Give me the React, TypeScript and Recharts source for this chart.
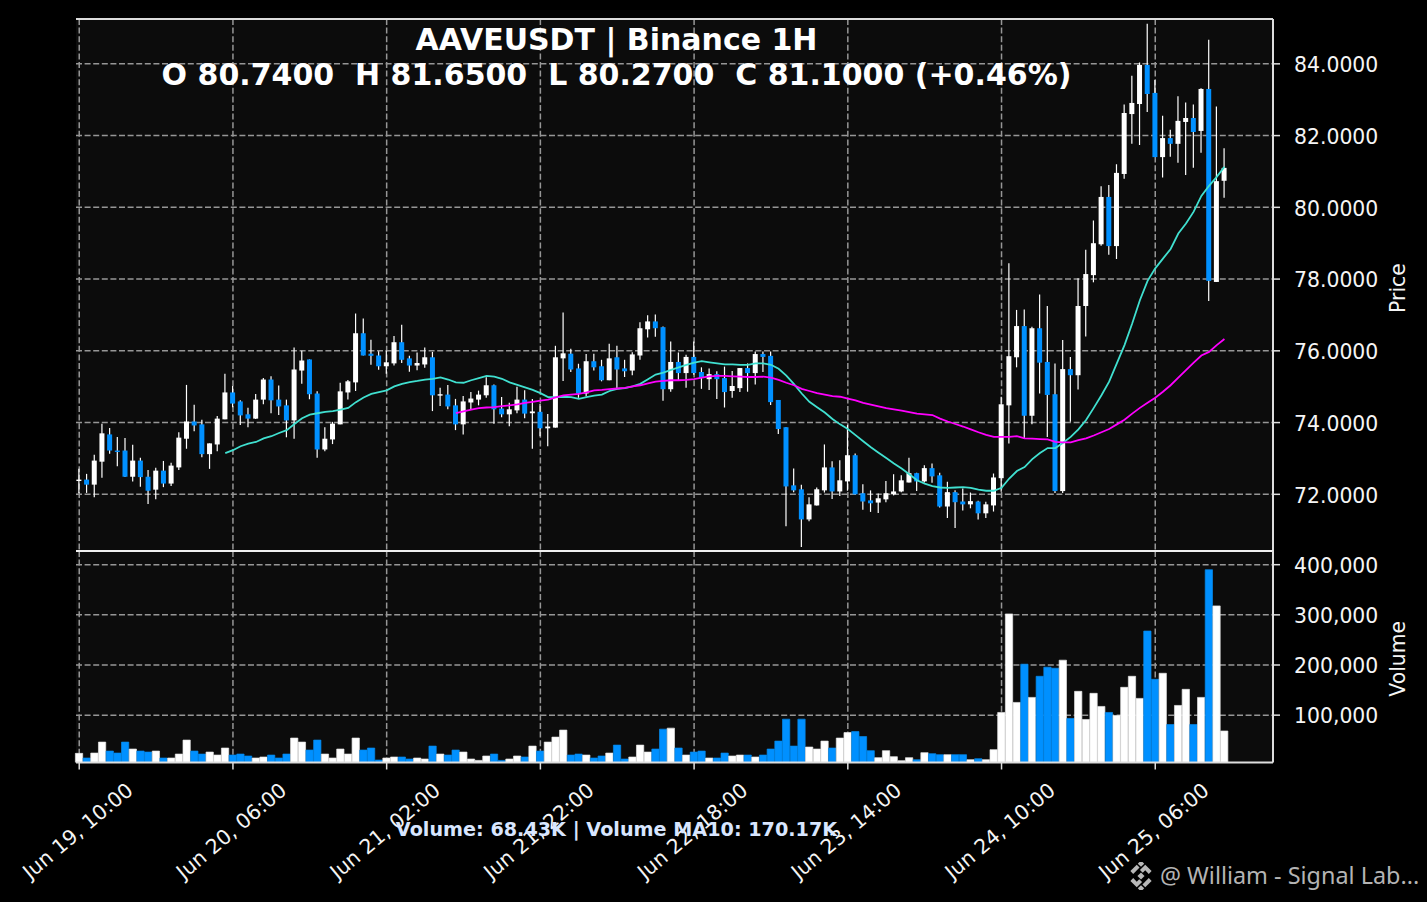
import React from 'react'
import {
  Bar,
  CartesianGrid,
  Cell,
  ComposedChart,
  Line,
  ReferenceLine,
  XAxis,
  YAxis,
} from 'recharts'

const opens = [
  72.40, 72.41, 72.27, 72.91, 73.67, 73.22, 73.22, 72.49, 72.94, 72.49,
  72.13, 72.66, 72.30, 72.75, 73.55, 74.03, 73.95, 73.12, 73.39, 74.09,
  74.84, 74.59, 74.23, 74.11, 74.64, 75.20, 74.64, 74.48, 74.06, 75.45,
  75.76, 74.81, 73.25, 73.53, 73.95, 74.84, 75.12, 76.49, 75.92, 75.87,
  75.57, 75.65, 76.24, 75.79, 75.59, 75.62, 75.82, 74.77, 74.78, 74.48,
  73.95, 74.56, 74.64, 74.76, 75.04, 74.39, 74.23, 74.34, 74.64, 74.26,
  74.30, 73.84, 73.86, 75.79, 75.92, 75.51, 74.81, 75.71, 75.57, 75.18,
  75.82, 75.51, 75.45, 75.87, 76.60, 76.82, 76.66, 74.93, 75.69, 75.38,
  75.83, 75.41, 75.21, 75.35, 75.24, 74.88, 74.96, 75.52, 75.38, 75.91,
  75.86, 74.63, 73.87, 72.25, 72.14, 71.30, 71.69, 72.11, 72.75, 72.08,
  72.36, 73.09, 72.03, 71.83, 71.77, 71.86, 72.00, 72.08, 72.33, 72.59,
  72.36, 72.73, 72.53, 71.66, 72.06, 71.80, 71.72, 71.80, 71.47, 71.69,
  72.45, 74.48, 75.82, 76.69, 74.19, 76.63, 75.69, 74.79, 72.09, 75.49,
  75.32, 77.25, 78.11, 78.97, 80.29, 78.92, 80.93, 82.60, 82.88, 83.97,
  83.19, 81.40, 81.93, 81.77, 82.38, 82.49, 82.13, 83.30, 77.92, 80.74,
]

const closes = [
  72.41, 72.27, 72.94, 73.70, 73.22, 73.21, 72.49, 72.94, 72.48, 72.10,
  72.66, 72.30, 72.80, 73.58, 74.03, 73.92, 73.12, 73.42, 74.11, 74.84,
  74.53, 74.20, 74.11, 74.64, 75.20, 74.62, 74.45, 74.06, 75.48, 75.73,
  74.79, 73.25, 73.55, 73.97, 74.87, 75.15, 76.49, 75.87, 75.86, 75.57,
  75.68, 76.24, 75.75, 75.59, 75.66, 75.82, 74.76, 74.79, 74.45, 73.95,
  74.59, 74.67, 74.78, 75.04, 74.37, 74.23, 74.37, 74.64, 74.25, 74.31,
  73.84, 73.89, 75.82, 75.93, 75.48, 74.81, 75.71, 75.54, 75.18, 75.79,
  75.48, 75.43, 75.90, 76.63, 76.82, 76.63, 74.93, 75.69, 75.38, 75.83,
  75.38, 75.24, 75.35, 75.21, 74.85, 75.02, 75.52, 75.38, 75.91, 75.83,
  74.57, 73.82, 72.22, 72.11, 71.30, 71.72, 72.14, 72.75, 72.08, 72.39,
  73.09, 72.00, 71.80, 71.75, 71.89, 72.03, 72.08, 72.39, 72.59, 72.36,
  72.73, 72.50, 71.66, 72.06, 71.78, 71.72, 71.81, 71.47, 71.72, 72.47,
  74.51, 75.85, 76.69, 74.19, 76.63, 75.67, 74.77, 72.09, 75.49, 75.32,
  77.25, 78.14, 79.00, 80.29, 78.92, 80.96, 82.63, 82.91, 83.97, 83.16,
  81.40, 81.93, 81.77, 82.41, 82.49, 82.10, 83.30, 77.95, 80.73, 81.10,
]

const highs = [
  72.71, 72.57, 73.10, 73.97, 73.85, 73.60, 73.57, 73.38, 73.02, 72.68,
  72.74, 72.93, 72.88, 73.73, 75.05, 74.50, 74.08, 73.42, 74.18, 75.36,
  75.02, 74.62, 74.41, 74.80, 75.24, 75.29, 75.03, 74.64, 76.09, 76.00,
  75.76, 74.87, 73.87, 74.02, 75.11, 75.19, 77.04, 76.90, 76.31, 75.99,
  76.01, 76.41, 76.73, 75.86, 75.95, 76.09, 75.97, 74.97, 75.05, 74.66,
  74.74, 74.85, 74.89, 75.26, 75.06, 74.71, 74.55, 75.00, 74.90, 74.66,
  74.52, 74.24, 76.14, 77.07, 76.06, 75.64, 75.91, 75.92, 75.75, 76.20,
  76.14, 75.75, 75.96, 76.80, 76.99, 77.01, 76.68, 76.26, 75.95, 75.89,
  76.26, 75.54, 75.51, 75.43, 75.56, 75.44, 75.52, 75.65, 75.98, 75.98,
  75.98, 74.63, 73.87, 72.72, 72.27, 71.92, 72.19, 73.39, 72.92, 72.95,
  73.93, 73.14, 72.28, 72.11, 72.02, 72.37, 72.56, 72.53, 73.02, 72.60,
  72.81, 72.86, 72.60, 72.35, 72.11, 72.16, 72.05, 71.82, 71.79, 72.58,
  74.72, 78.44, 77.14, 77.15, 76.67, 77.57, 77.25, 75.65, 76.30, 75.83,
  78.02, 78.82, 79.63, 80.59, 80.62, 81.20, 82.87, 83.67, 84.04, 85.12,
  83.55, 82.55, 82.16, 83.10, 82.92, 82.87, 83.32, 84.67, 82.81, 81.65,
]

const lows = [
  72.03, 72.04, 71.92, 72.46, 73.13, 72.78, 72.48, 72.36, 72.21, 71.73,
  71.86, 72.20, 72.23, 72.68, 73.27, 73.76, 73.03, 72.71, 73.20, 74.09,
  74.43, 73.93, 73.87, 74.10, 74.51, 74.26, 74.21, 73.59, 73.55, 75.08,
  74.65, 73.02, 73.20, 73.40, 73.95, 74.64, 74.88, 75.87, 75.61, 75.47,
  75.36, 75.59, 75.66, 75.42, 75.46, 75.53, 74.32, 74.46, 74.37, 73.79,
  73.67, 74.38, 74.48, 74.69, 73.97, 74.15, 73.90, 74.26, 74.12, 73.27,
  73.62, 73.34, 73.86, 75.16, 75.41, 74.69, 74.73, 75.45, 75.15, 75.18,
  74.94, 75.27, 75.32, 75.75, 76.37, 76.39, 74.61, 74.86, 75.19, 74.97,
  75.33, 74.94, 74.91, 74.66, 74.42, 74.69, 74.85, 74.86, 75.06, 75.41,
  74.49, 73.68, 71.11, 72.06, 70.53, 71.25, 71.69, 72.05, 71.87, 71.95,
  72.10, 72.00, 71.57, 71.51, 71.48, 71.78, 71.97, 72.06, 72.33, 72.09,
  72.33, 72.32, 71.63, 71.34, 71.06, 71.55, 71.61, 71.30, 71.34, 71.52,
  72.07, 73.42, 75.54, 73.55, 73.95, 74.81, 73.60, 72.04, 72.04, 74.02,
  74.92, 76.40, 77.91, 78.93, 78.68, 78.56, 80.80, 81.77, 81.74, 82.66,
  81.40, 80.83, 81.41, 81.24, 80.90, 81.10, 81.52, 77.39, 77.92, 80.27,
]

const volumes = [
  23800, 14500, 24400, 46300, 28400, 24400, 46300, 32400, 28400, 26400,
  28400, 14500, 14500, 22400, 50300, 28400, 22400, 26400, 20400, 34400,
  20400, 22400, 18500, 14500, 16500, 20400, 14500, 22400, 54300, 46300,
  30400, 50300, 22400, 14500, 32400, 22400, 54300, 30400, 34400, 10500,
  14500, 16500, 16500, 12500, 14500, 12500, 38300, 22400, 20400, 30400,
  26400, 12500, 9800, 18500, 22400, 9800, 12500, 18500, 16500, 38300,
  28400, 46300, 56200, 70200, 20400, 22400, 20400, 14500, 18500, 24400,
  40300, 12500, 16500, 40300, 26400, 32400, 72100, 74100, 34400, 20400,
  26400, 28400, 14500, 14500, 24400, 18500, 20400, 20400, 16500, 20400,
  32400, 48300, 92000, 38300, 92000, 36400, 32400, 48300, 34400, 54300,
  65300, 67300, 57300, 29200, 15200, 29200, 17200, 9200, 15200, 11200,
  25200, 23200, 21200, 21200, 21200, 21200, 11200, 13200, 11200, 31200,
  105400, 301800, 125400, 201600, 135400, 177500, 195600, 193600, 209600, 93400,
  147500, 91400, 143500, 117400, 105400, 99400, 155500, 177500, 133400, 267700,
  171500, 183500, 81400, 119400, 151500, 81400, 135400, 390000, 317800, 68430,
]

// cyan line starts at candle 19
const maFastStart = 19
const maFast = [
  73.15, 73.23, 73.34, 73.41, 73.46, 73.56, 73.62, 73.71, 73.79, 73.96,
  74.12, 74.22, 74.26, 74.30, 74.32, 74.36, 74.41, 74.57, 74.70, 74.80,
  74.85, 74.90, 75.01, 75.08, 75.13, 75.16, 75.20, 75.22, 75.26, 75.20,
  75.12, 75.11, 75.18, 75.24, 75.30, 75.28, 75.22, 75.12, 75.05, 74.98,
  74.91, 74.82, 74.71, 74.71, 74.72, 74.71, 74.66, 74.71, 74.75, 74.78,
  74.88, 74.94, 74.96, 75.01, 75.08, 75.21, 75.34, 75.39, 75.47, 75.54,
  75.61, 75.67, 75.71, 75.68, 75.65, 75.62, 75.62, 75.61, 75.61, 75.65,
  75.65, 75.61, 75.50, 75.31, 75.07, 74.81, 74.58, 74.43, 74.28, 74.10,
  73.95, 73.82, 73.65, 73.48, 73.31, 73.16, 73.01, 72.86, 72.72, 72.56,
  72.39, 72.30, 72.23, 72.19, 72.18, 72.19, 72.20, 72.18, 72.13, 72.10,
  72.10, 72.18, 72.44, 72.65, 72.76, 72.98, 73.15, 73.29, 73.29, 73.44,
  73.60, 73.81, 74.07, 74.41, 74.76, 75.14, 75.65, 76.16, 76.76, 77.41,
  77.95, 78.30, 78.57, 78.84, 79.27, 79.55, 79.88, 80.32, 80.60, 80.85,
  81.13,
]

// magenta line starts at candle 49
const maSlowStart = 49
const maSlow = [
  74.26, 74.31, 74.36, 74.40, 74.42, 74.43, 74.46, 74.48, 74.51, 74.55,
  74.58, 74.61, 74.64, 74.70, 74.76, 74.78, 74.80, 74.84, 74.90, 74.91,
  74.93, 74.95, 74.97, 75.01, 75.04, 75.09, 75.14, 75.16, 75.18, 75.18,
  75.19, 75.21, 75.25, 75.29, 75.30, 75.30, 75.29, 75.28, 75.27, 75.27,
  75.28, 75.25, 75.19, 75.11, 75.04, 74.94, 74.88, 74.82, 74.78, 74.74,
  74.72, 74.67, 74.62, 74.55, 74.50, 74.45, 74.40, 74.37, 74.33, 74.29,
  74.25, 74.23, 74.21, 74.11, 74.03, 73.96, 73.89, 73.81, 73.73, 73.66,
  73.60, 73.60, 73.60, 73.62, 73.56, 73.55, 73.54, 73.53, 73.46, 73.45,
  73.45, 73.51, 73.56, 73.64, 73.73, 73.82, 73.95, 74.08, 74.25, 74.41,
  74.55, 74.69, 74.86, 75.04, 75.25, 75.46, 75.67, 75.87, 75.97, 76.16,
  76.33,
]

const xTicks = [0, 20, 40, 60, 80, 100, 120, 140]
const xTickLabels = [
  'Jun 19, 10:00',
  'Jun 20, 06:00',
  'Jun 21, 02:00',
  'Jun 21, 22:00',
  'Jun 22, 18:00',
  'Jun 23, 14:00',
  'Jun 24, 10:00',
  'Jun 25, 06:00',
]
const priceTicks = [72, 74, 76, 78, 80, 82, 84]
const volumeTicks = [100000, 200000, 300000, 400000]

const xDomain = [-0.42, 155.32]
const priceDomain = [70.42, 85.25]
const volumeDomain = [5600, 427300]

const UP = '#ffffff'
const DOWN = '#0090ff'
const GRID = '#969696'
const SPINE = '#dddddd'
const TEXT = '#f5f5f5'
const FONT = '"DejaVu Sans", sans-serif'

const rows = opens.map((open, i) => ({
  i,
  open,
  close: closes[i],
  high: highs[i],
  low: lows[i],
  range: [lows[i], highs[i]],
  volume: volumes[i],
  maFast: i >= maFastStart ? maFast[i - maFastStart] : null,
  maSlow: i >= maSlowStart ? maSlow[i - maSlowStart] : null,
}))

function Candle(props: any) {
  const { x, y, width, height, payload } = props
  const { open, close, high, low } = payload
  const perUnit = height / (high - low)
  const top = y + (high - Math.max(open, close)) * perUnit
  const bodyHeight = Math.max(Math.abs(close - open) * perUnit, 1.4)
  const mid = x + width / 2
  return (
    <g>
      <line x1={mid} x2={mid} y1={y} y2={y + height} stroke="#ffffff" strokeWidth={1.2} />
      <rect x={x} y={top} width={width} height={bodyHeight} fill={close >= open ? UP : DOWN} />
    </g>
  )
}

function DateTick(props: any) {
  const { x, payload } = props
  const label = xTickLabels[xTicks.indexOf(payload.value)]
  const cx = x - 1.5
  const cy = 282
  return (
    <text
      x={cx}
      y={cy}
      textAnchor="middle"
      dominantBaseline="central"
      fontFamily={FONT}
      fontSize={20.4}
      fill={TEXT}
      transform={`rotate(-40 ${cx} ${cy})`}
    >
      {label}
    </text>
  )
}

function BinanceMark() {
  return (
    <svg width={28} height={28} viewBox="0 0 28 28" style={{ position: 'absolute', left: 1127, top: 862 }}>
      <g fill="#b8b8b8" transform="rotate(45 14 14)">
        <rect x={11.5} y={11.5} width={5} height={5} />
        <rect x={3} y={3} width={4.5} height={4.5} />
        <rect x={20.5} y={20.5} width={4.5} height={4.5} />
        <path d="M9 3h9v4h-5v3.5H9z" />
        <path d="M3 9h4v9h-4z" />
        <path d="M19 25h-9v-4h5v-3.5h4z" />
        <path d="M25 19h-4v-9h4z" />
      </g>
    </svg>
  )
}

const overlayText: React.CSSProperties = {
  position: 'absolute',
  left: 0,
  width: 1233,
  textAlign: 'center',
  fontFamily: FONT,
  fontWeight: 700,
  whiteSpace: 'pre',
  color: '#ffffff',
}

export default function App() {
  const axisTick = { fill: TEXT, fontSize: 20.4, fontFamily: FONT, dy: 1 }
  return (
    <div style={{ position: 'absolute', left: 0, top: 0, width: 1427, height: 902, background: '#000', overflow: 'hidden' }}>
      <div style={{ position: 'absolute', left: 0, top: 0 }}>
        <ComposedChart width={1427} height={551} data={rows} margin={{ top: 19, right: 0, bottom: 0, left: 76 }}>
          <CartesianGrid
            fill="#0c0c0c"
            stroke={GRID}
            strokeWidth={1.5}
            strokeDasharray="6 2.6"
            verticalValues={xTicks}
            horizontalValues={priceTicks}
          />
          <XAxis
            type="number"
            dataKey="i"
            domain={xDomain}
            ticks={xTicks}
            height={0}
            tick={() => <g />}
            tickLine={false}
            axisLine={false}
          />
          <YAxis
            orientation="right"
            domain={priceDomain}
            ticks={priceTicks}
            width={154}
            tick={axisTick}
            tickSize={7}
            tickMargin={14}
            tickLine={{ stroke: SPINE, strokeWidth: 1.5 }}
            axisLine={{ stroke: SPINE, strokeWidth: 2 }}
            tickFormatter={(v: number) => v.toFixed(4)}
            allowDataOverflow
            label={{ value: 'Price', angle: -90, position: 'center', dx: 48, dy: 3, fill: TEXT, fontSize: 20.4, fontFamily: FONT }}
          />
          <ReferenceLine y={priceDomain[1]} stroke={SPINE} strokeWidth={2} />
          <Bar dataKey="range" barSize={5} shape={<Candle />} isAnimationActive={false} />
          <Line dataKey="maFast" type="linear" stroke="#40e0d0" strokeWidth={1.8} dot={false} isAnimationActive={false} />
          <Line dataKey="maSlow" type="linear" stroke="#ff00ff" strokeWidth={1.8} dot={false} isAnimationActive={false} />
        </ComposedChart>
      </div>
      <div style={{ position: 'absolute', left: 0, top: 549 }}>
        <ComposedChart width={1427} height={353} data={rows} margin={{ top: 2, right: 0, bottom: 0, left: 76 }}>
          <CartesianGrid
            fill="#0c0c0c"
            stroke={GRID}
            strokeWidth={1.5}
            strokeDasharray="6 2.6"
            verticalValues={xTicks}
            horizontalValues={volumeTicks}
          />
          <XAxis
            type="number"
            dataKey="i"
            domain={xDomain}
            ticks={xTicks}
            interval={0}
            height={139.5}
            tick={<DateTick />}
            tickSize={7}
            tickLine={{ stroke: SPINE, strokeWidth: 1.5 }}
            axisLine={{ stroke: SPINE, strokeWidth: 2 }}
          />
          <YAxis
            orientation="right"
            domain={volumeDomain}
            ticks={volumeTicks}
            width={154}
            tick={axisTick}
            tickSize={7}
            tickMargin={14}
            tickLine={{ stroke: SPINE, strokeWidth: 1.5 }}
            axisLine={{ stroke: SPINE, strokeWidth: 2 }}
            tickFormatter={(v: number) => v.toLocaleString('en-US')}
            allowDataOverflow
            label={{ value: 'Volume', angle: -90, position: 'center', dx: 48, dy: 2, fill: TEXT, fontSize: 20.4, fontFamily: FONT }}
          />
          <ReferenceLine y={volumeDomain[1]} stroke="#f0f0f0" strokeWidth={2} />
          <Bar dataKey="volume" barSize={7.3} isAnimationActive={false}>
            {rows.map((row) => (
              <Cell
                key={row.i}
                fill={row.close >= row.open ? UP : DOWN}
                stroke={row.close >= row.open ? '#e4e4e4' : '#0488ea'}
                strokeWidth={0.7}
              />
            ))}
          </Bar>
        </ComposedChart>
      </div>
      <div style={{ ...overlayText, top: 22, fontSize: 30, lineHeight: '36px' }}>AAVEUSDT | Binance 1H</div>
      <div style={{ ...overlayText, top: 57, fontSize: 30, lineHeight: '36px' }}>
        {'O 80.7400  H 81.6500  L 80.2700  C 81.1000 (+0.46%)'}
      </div>
      <div style={{ ...overlayText, top: 819, fontSize: 19.2, lineHeight: '22px', color: '#d8e6ff' }}>
        Volume: 68.43K | Volume MA10: 170.17K
      </div>
      <BinanceMark />
      <div
        style={{
          position: 'absolute',
          left: 1160,
          top: 859,
          fontFamily: '"Noto Sans", sans-serif',
          fontSize: 23.4,
          lineHeight: '33px',
          color: '#b4b4b4',
          whiteSpace: 'pre',
        }}
      >
        @ William - Signal Lab...
      </div>
    </div>
  )
}
